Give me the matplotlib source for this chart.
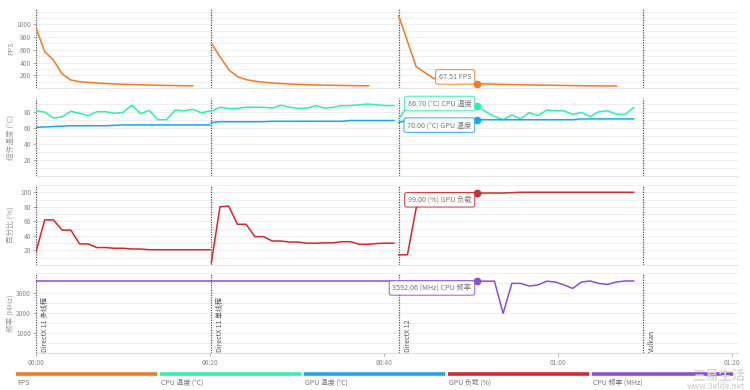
import numpy as np
import matplotlib
matplotlib.use('Agg')
import matplotlib.pyplot as plt
from matplotlib.ticker import MultipleLocator, FixedLocator

plt.rcParams['font.family'] = ['Noto Sans CJK SC', 'DejaVu Sans']

# test phases (seconds)
test_names = ['DirectX 11 多线程', 'DirectX 11 单线程', 'DirectX 12', 'Vulkan']
test_starts = [0, 20.1, 41.7, 69.8]

# FPS, three runs
fps_time_1 = list(range(0, 19))
fps_1 = [941, 569, 439, 220, 125, 99, 88, 78, 70, 63, 58, 54, 50, 46, 43, 40, 38, 36, 34]
fps_time_2 = [20.2 + i for i in range(19)]
fps_2 = [690, 480, 280, 175, 130, 105, 90, 78, 70, 62, 57, 52, 48, 45, 42, 40, 38, 36, 35]
fps_time_3 = [41.7, 43.7, 45.7, 47.7, 49.7, 50.7, 52.7, 54.7, 56.7, 58.7, 60.7, 62.7, 64.7, 66.7]
fps_3 = [1130, 334, 150, 100, 75, 67.51, 60, 54, 48, 44, 40, 36, 33, 31]

# sensor series, sampled once per second from each phase start
seg_starts = [0, 20.15, 41.7]
cpu_temp = [
    [81, 79.5, 72, 73.5, 80.5, 78, 75, 80, 80, 78, 79, 88, 77.5, 81.5, 70, 70, 82, 81, 83, 78.5, 81],
    [80.5, 85.5, 84, 84, 85.5, 85.5, 85.5, 84.5, 88, 85.5, 84, 84.5, 87.5, 84.5, 85.5, 87.5,
     87.5, 88.5, 89.5, 88.5, 87.5, 87.5],
    [71, 86.7, 86.7, 86.7, 86.7, 86.7, 86.7, 86.7, 86.7, 86.7, 80, 74, 70, 76, 71, 79, 75, 82,
     81, 81, 76.5, 79, 74, 80, 81, 77, 76.5, 85],
]
gpu_temp = [
    [60.5, 61, 61.5, 62, 62.5, 62.5, 62.5, 62.5, 62.5, 63, 63.5, 63.5, 63.5, 63.5, 63.5, 63.5,
     63.5, 63.5, 63.5, 63.5, 63.5],
    [66.5, 67.5, 67.5, 67.5, 67.5, 67.5, 67.5, 68, 68, 68, 68, 68, 68, 68, 68, 68, 69, 69, 69,
     69, 69, 69],
    [66.5, 69.5, 70, 70, 70, 70, 70, 70, 70, 70, 70, 70, 70, 70, 70, 70, 70, 70, 70, 70, 70,
     71, 71, 71, 71, 71, 71, 71],
]
gpu_load = [
    [18, 62, 62, 48, 48, 29, 29, 24, 24, 23, 23, 22, 22, 21, 21, 21, 21, 21, 21, 21, 21],
    [3, 80, 81, 56, 56, 39, 39, 33, 33, 31.5, 31.5, 30, 30, 30.5, 30.5, 32, 32, 28.5, 28.5,
     29.5, 30, 30],
    [14, 14, 78, 98, 99, 99, 99, 99, 99, 99, 99, 99, 99, 99.5, 100, 100, 100, 100, 100, 100,
     100, 100, 100, 100, 100, 100, 100, 100],
]
cpu_freq = [
    [3592] * 21,
    [3592] * 22,
    [3592, 3592, 3592, 3592, 3592, 3592, 3592, 3592, 3592, 3592, 3592, 3592, 1980, 3480, 3480,
     3350, 3400, 3590, 3550, 3400, 3230, 3550, 3600, 3480, 3430, 3550, 3600, 3600],
]

cursor_t = 50.7
cursor_labels = ['67.51 FPS', '86.70 (°C) CPU 温度', '70.00 (°C) GPU 温度',
                 '99.00 (%) GPU 负载', '3592.06 (MHz) CPU 频率']
cursor_vals = [67.51, 86.70, 70.00, 99.00, 3592.06]

series_names = ['FPS', 'CPU 温度 (°C)', 'GPU 温度 (°C)', 'GPU 负载 (%)', 'CPU 频率 (MHz)']
colors = ['#f27b1d', '#2cf0b4', '#1aa6f2', '#d8262e', '#8b4fd6']

ylabels = ['FPS', '组件温度 (°C)', '百分比 (%)', '频率 (MHz)']
ylims = [(0, 1255), (0, 97), (0, 110), (0, 4000)]
yticks = [[200, 400, 600, 800, 1000], [20, 40, 60, 80], [20, 40, 60, 80, 100], [1000, 2000, 3000]]
minor = [100, 10, 10, 500]

fig = plt.figure(figsize=(7.5, 3.9), dpi=100)
W, H = 750, 390
panel_px = [(8, 88), (98, 176), (185, 265), (273, 353)]
axes = []
for top, bot in panel_px:
    ax = fig.add_axes([36 / W, 1 - bot / H, 702 / W, (bot - top) / H])
    axes.append(ax)

grey = '#8a8a8a'
for i, ax in enumerate(axes):
    ax.set_xlim(0, 80.7)
    ax.set_ylim(*ylims[i])
    ax.yaxis.set_major_locator(FixedLocator(yticks[i]))
    ax.yaxis.set_minor_locator(MultipleLocator(minor[i]))
    ax.grid(True, which='both', axis='y', color='#efefef', lw=0.7)
    ax.set_axisbelow(True)
    for s in ['top', 'right', 'left']:
        ax.spines[s].set_visible(False)
    ax.spines['bottom'].set_color('#e6e6e6')
    ax.tick_params(axis='y', which='major', labelsize=4.8, colors=grey, length=2, width=0.5, pad=1.5)
    ax.tick_params(axis='y', which='minor', length=0)
    ax.set_ylabel(ylabels[i], fontsize=5.5, color='#9a9a9a', labelpad=3)
    ax.yaxis.set_label_coords(-0.03, 0.5)
    for x in test_starts:
        ax.axvline(x, color='#555555', lw=0.9, ls=(0, (1, 1)), zorder=1)
    if i < 3:
        ax.tick_params(axis='x', bottom=False, labelbottom=False)

# x axis on last panel
axes[3].set_xticks([0, 20, 40, 60, 80])
axes[3].set_xticklabels(['00:00', '00:20', '00:40', '01:00', '01:20'])
axes[3].tick_params(axis='x', labelsize=4.8, colors=grey, length=2, width=0.5, pad=2)
axes[3].spines['bottom'].set_color('#dddddd')

# FPS
for t, v in [(fps_time_1, fps_1), (fps_time_2, fps_2), (fps_time_3, fps_3)]:
    axes[0].plot(t, v, color=colors[0], lw=1.1, zorder=3)

# sensor series
for k, start in enumerate(seg_starts):
    n = len(cpu_temp[k])
    tt = [start + j for j in range(n)]
    axes[1].plot(tt, cpu_temp[k], color=colors[1], lw=1.1, zorder=3)
    axes[1].plot(tt[:len(gpu_temp[k])], gpu_temp[k], color=colors[2], lw=1.1, zorder=3)
    axes[2].plot(tt[:len(gpu_load[k])], gpu_load[k], color=colors[3], lw=1.1, zorder=3)
    axes[3].plot(tt[:len(cpu_freq[k])], cpu_freq[k], color=colors[4], lw=1.1, zorder=3)

# phase names
for name, x in zip(test_names, test_starts):
    axes[3].text(x + 0.6, 30, name, rotation=90, fontsize=5, color='#555555',
                 ha='left', va='bottom')

# cursor tooltips
tip_ax = [0, 1, 1, 2, 3]
tip_off = [(-4, 2), (-4, 2), (-4, -1), (-4, -2), (-4, -2)]
tip_va = ['bottom', 'center', 'top', 'top', 'top']
for k in range(5):
    ax = axes[tip_ax[k]]
    ax.plot([cursor_t], [cursor_vals[k]], 'o', color=colors[k], ms=4.5, zorder=6)
    ax.annotate(cursor_labels[k], xy=(cursor_t, cursor_vals[k]), xytext=tip_off[k],
                textcoords='offset points', ha='right', va=tip_va[k], fontsize=5.2,
                color='#777777', zorder=7,
                bbox=dict(boxstyle='round,pad=0.45,rounding_size=0.3', fc='white',
                          ec=colors[k], lw=0.7, alpha=0.92))

# legend bars at the bottom
bar_x = [16, 160, 304, 448, 592]
for k in range(5):
    x0 = bar_x[k] / W
    fig.add_artist(plt.Line2D([x0, x0 + 141 / W], [1 - 374 / H] * 2, color=colors[k], lw=2.6,
                              solid_capstyle='butt'))
    fig.text(x0 + 1 / W, 1 - 383 / H, series_names[k], fontsize=5, color='#777777',
             ha='left', va='center')

# watermark
fig.text(745 / W, 1 - 376 / H, '三易生活', fontsize=9.5, color='#d8d8d8', ha='right',
         va='center', fontweight='bold')
fig.text(745 / W, 1 - 386.5 / H, 'www.3elife.net', fontsize=5.5, color='#d8d8d8', ha='right',
         va='center', fontweight='bold')

fig.savefig('out.png', dpi=100, facecolor='white')
